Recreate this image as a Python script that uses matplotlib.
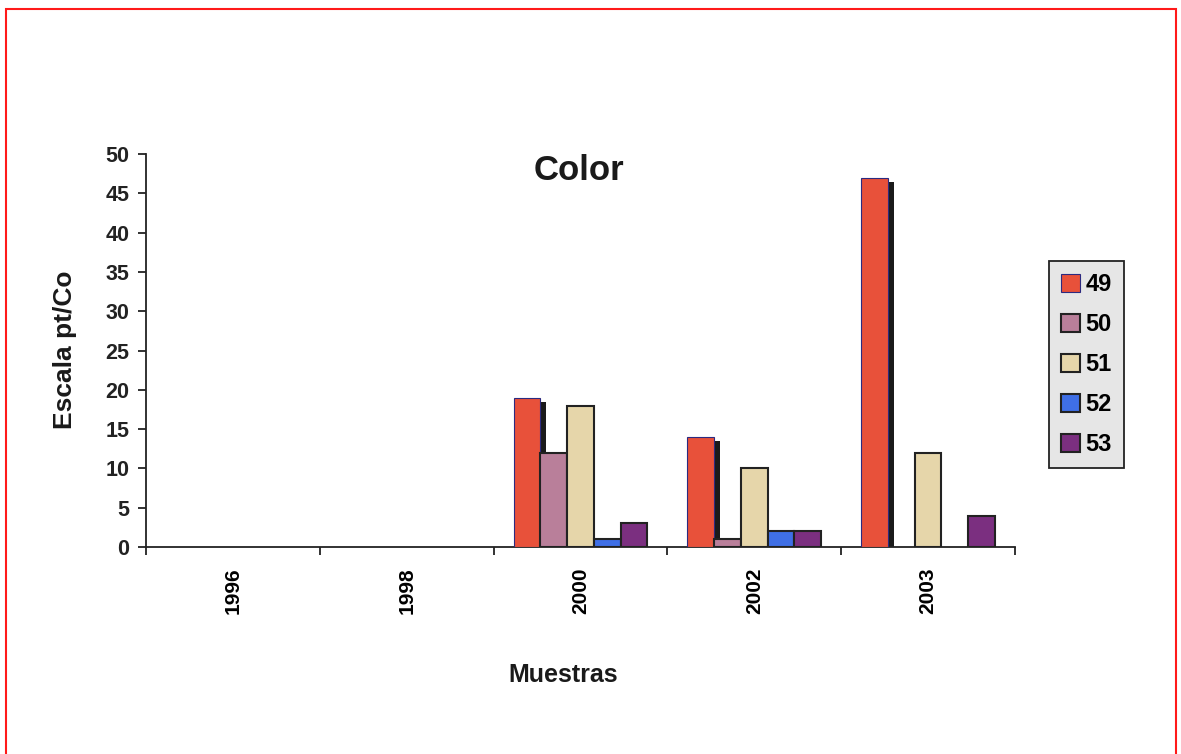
import numpy as np
import matplotlib
matplotlib.use('Agg')
import matplotlib.pyplot as plt
from matplotlib.patches import Rectangle

plt.rcParams['font.family'] = ['Liberation Sans', 'DejaVu Sans']
plt.rcParams['font.weight'] = 'bold'

years = ['1996', '1998', '2000', '2002', '2003']
series = ['49', '50', '51', '52', '53']
v49 = [0, 0, 19, 14, 47]
v50 = [0, 0, 12, 1, 0]
v51 = [0, 0, 18, 10, 12]
v52 = [0, 0, 1, 2, 0]
v53 = [0, 0, 3, 2, 4]
values = [v49, v50, v51, v52, v53]

colors = ['#e8513a', '#b97f9a', '#e6d6aa', '#3f6fe6', '#7b2f80']
edges = ['#2c2a80', '#222222', '#222222', '#222222', '#222222']
widths = [0.8, 1.5, 1.5, 1.5, 1.5]

fig = plt.figure(figsize=(11.81, 7.54), dpi=100)
ax = fig.add_axes([0.1236, 0.2745, 0.7358, 0.5212])

x = np.arange(len(years))
w = 0.154
for i, (vals, c, ec, lw) in enumerate(zip(values, colors, edges, widths)):
    pos = x + (i - 2) * w
    # no outline for empty bars so nothing shows on the baseline
    lws = [lw if v > 0 else 0 for v in vals]
    if i == 0:
        # dark drop shadow behind the first series
        shadow = [max(v - 0.5, 0) for v in vals]
        ax.bar(pos + 0.035, shadow, w, color='#1a1a1a', zorder=2)
    ax.bar(pos, vals, w, color=c, edgecolor=ec, linewidth=lws,
           label=series[i], zorder=3)

ax.set_xlim(-0.5, 4.5)
ax.set_ylim(0, 50)
ax.set_yticks(range(0, 51, 5))
ax.set_xticks(np.arange(-0.5, 5, 1))
ax.set_xticklabels([])
ax.set_xticks(x, minor=True)
ax.set_xticklabels(years, minor=True, rotation=90, fontsize=15, fontweight='bold')
ax.tick_params(axis='x', which='minor', length=0, pad=15)
ax.tick_params(axis='x', which='major', direction='out', length=6, width=1.3, color='#222222')
ax.tick_params(axis='y', direction='out', length=6, width=1.3, color='#222222',
               labelsize=15.5, pad=6)
for lbl in ax.get_yticklabels():
    lbl.set_fontweight('bold')
    lbl.set_color('#222222')

for s in ['top', 'right']:
    ax.spines[s].set_visible(False)
for s in ['left', 'bottom']:
    ax.spines[s].set_linewidth(1.3)
    ax.spines[s].set_color('#222222')

fig.text(579 / 1181, 1 - 170 / 754, 'Color', fontsize=25, fontweight='bold',
         ha='center', va='center', color='#1a1a1a')
fig.text(65 / 1181, 1 - 350 / 754, 'Escala pt/Co', fontsize=19, fontweight='bold',
         rotation=90, ha='center', va='center', color='#1a1a1a')
fig.text(563 / 1181, 1 - 675 / 754, 'Muestras', fontsize=18, fontweight='bold',
         ha='center', va='center', color='#1a1a1a')

leg = ax.legend(loc='upper left', bbox_to_anchor=(1049 / 1181, 1 - 261 / 754),
                bbox_transform=fig.transFigure, borderaxespad=0,
                fancybox=False, framealpha=1, facecolor='#e6e6e6', edgecolor='#222222',
                prop={'size': 17, 'weight': 'bold'}, handlelength=0.8, handleheight=0.8,
                handletextpad=0.25, labelspacing=0.72, borderpad=0.5)
leg.get_frame().set_linewidth(1.3)
for h, ec, lw in zip(leg.legend_handles, edges, widths):
    h.set_edgecolor(ec)
    h.set_linewidth(lw)

fig.patches.append(Rectangle((6 / 1181, -0.1), 1170 / 1181, 0.1 + 1 - 9 / 754,
                             transform=fig.transFigure, fill=False,
                             edgecolor='#ff1a1a', linewidth=1.5))

fig.savefig('out.png', dpi=100)
